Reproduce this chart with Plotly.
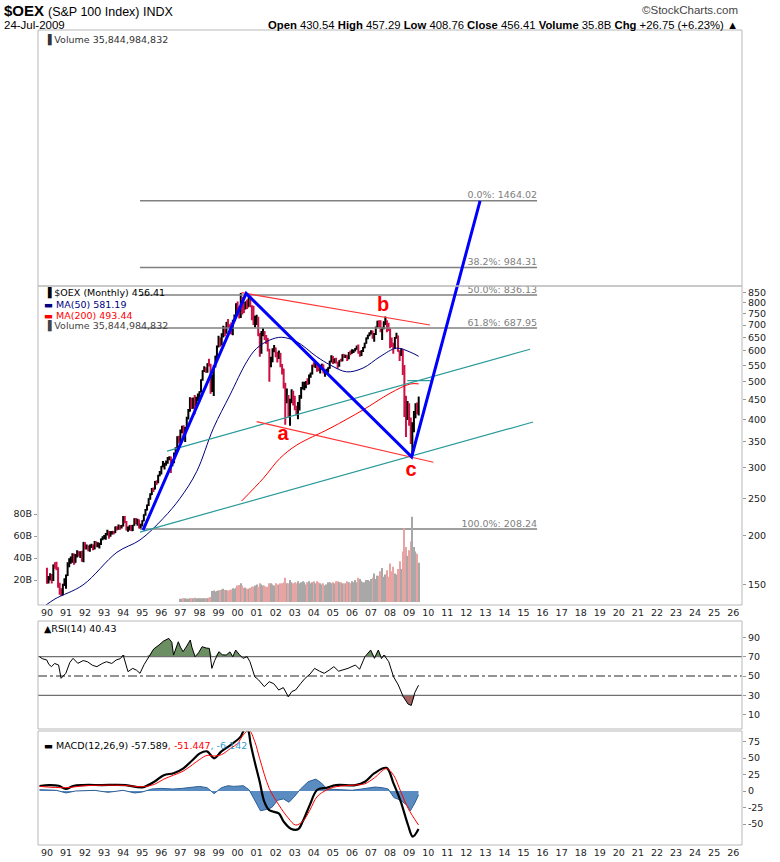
import plotly.graph_objects as go

W, H = 780, 862

# ---------------- data ----------------
FIRST_OPEN = 164.3
CLOSE = [
    153.0,154.3,158.1,153.8,168.0,166.5,165.6,150.0,142.3,141.4,149.8,153.5,
    158.2,168.9,172.6,172.6,179.3,170.8,178.4,181.9,178.4,180.6,172.6,191.9,
    186.0,187.8,183.7,188.8,189.0,185.7,193.0,188.4,190.1,190.5,196.3,198.2,
    199.7,201.7,205.5,200.3,204.8,205.0,203.9,210.9,208.8,212.8,210.1,212.3,
    223.9,217.2,207.3,209.7,212.3,206.6,213.1,221.1,215.2,219.7,211.0,213.6,
    218.7,226.6,233.3,240.3,249.6,255.5,264.2,264.1,275.3,274.5,286.2,291.6,
    302.1,304.2,306.6,310.7,317.8,318.5,304.0,309.7,326.5,335.0,359.6,351.8,
    373.4,375.6,359.6,380.6,402.9,420.4,453.3,427.3,450.0,434.4,453.8,460.9,
    470.5,505.7,533.3,540.3,532.3,555.6,551.4,472.9,504.4,547.1,581.8,617.0,
    646.2,628.6,656.1,684.3,670.4,710.4,690.9,689.9,673.4,718.9,736.1,792.8,
    760.0,744.7,816.7,791.6,774.2,792.8,779.8,827.1,782.9,776.5,712.5,714.4,
    730.8,662.7,619.8,667.0,670.0,652.6,645.2,603.5,553.8,563.5,605.6,609.8,
    593.4,575.5,590.9,549.2,538.9,494.9,455.8,458.1,407.7,442.9,468.2,439.9,
    427.9,420.6,424.1,458.5,480.8,485.3,492.2,500.0,493.0,520.1,523.8,550.4,
    548.6,555.3,546.2,537.0,543.5,553.3,528.8,530.0,535.0,542.5,563.4,581.7,
    561.1,571.7,560.8,549.5,566.0,565.9,586.2,579.6,583.7,573.3,593.5,592.9,
    601.6,601.9,608.6,616.0,597.0,597.0,600.0,612.8,627.9,647.6,658.3,666.6,
    671.6,657.0,663.6,692.3,714.8,702.1,679.6,688.4,713.0,723.6,691.7,685.7,
    643.8,621.4,617.7,648.5,655.4,599.0,594.4,601.6,548.2,457.4,424.7,431.0,
    394.0,348.6,378.8,411.5,430.6,429.66,456.41,
]
HIGH = [
    165.5,157.5,160.3,159.5,168.8,171.0,171.5,166.0,151.5,146.5,150.5,155.5,
    159.0,171.0,175.0,177.0,180.5,180.0,179.5,183.5,182.5,182.5,183.0,193.0,
    192.5,190.0,189.0,190.0,191.0,190.0,194.0,193.5,192.5,192.0,197.0,199.5,
    201.0,203.5,207.5,206.0,205.5,206.0,206.0,211.5,211.5,214.0,213.5,213.5,
    225.0,225.0,218.5,211.5,213.0,213.5,213.5,222.0,222.5,221.5,220.5,215.0,
    219.5,227.5,234.5,241.0,250.0,257.5,266.0,266.5,277.0,278.5,287.5,294.0,
    303.0,312.0,309.0,313.0,319.5,321.0,320.5,315.0,328.0,338.5,361.5,362.5,
    376.5,385.0,386.0,382.0,406.0,425.0,455.5,453.5,455.0,462.0,457.0,466.0,
    472.0,507.5,535.0,548.0,545.0,557.5,572.5,556.0,521.5,551.0,583.5,620.0,
    657.0,650.0,667.0,697.0,693.0,713.0,725.0,703.0,710.0,722.0,745.0,796.0,
    805.0,783.0,846.0,828.0,803.0,806.0,815.0,830.0,834.0,787.0,785.0,740.0,
    744.0,735.0,668.0,675.0,688.0,675.0,660.0,648.0,608.0,580.0,610.0,622.0,
    612.0,597.0,602.0,593.0,555.0,540.0,496.0,480.0,462.0,452.0,478.0,474.0,
    460.0,433.0,443.0,462.0,484.0,500.0,500.0,502.0,510.0,522.0,528.0,553.0,
    561.0,559.0,557.0,555.0,545.0,556.0,554.0,533.0,540.0,545.0,566.0,585.0,
    582.0,574.0,576.0,561.0,568.0,573.0,588.0,588.0,587.0,585.0,596.0,602.0,
    606.0,605.0,611.0,620.0,623.0,600.0,603.0,614.0,630.0,650.0,661.0,670.0,
    679.0,677.0,668.0,693.0,718.0,720.0,720.0,690.0,716.0,736.0,720.0,709.0,
    687.0,650.0,630.0,652.0,669.0,658.0,602.0,610.0,606.0,552.0,460.0,446.0,
    440.0,404.0,393.0,420.0,440.0,442.0,457.29,
]
LOW = [
    150.5,150.8,153.5,150.7,153.0,164.5,163.0,147.0,141.0,140.0,140.5,148.5,
    146.0,157.5,166.0,169.5,170.5,168.5,170.5,176.0,177.0,175.5,171.5,171.0,
    184.5,184.5,182.5,182.0,186.0,183.5,184.5,187.0,187.0,185.5,189.5,195.0,
    196.0,195.5,200.5,196.5,199.0,201.5,201.5,203.5,206.5,207.5,207.5,209.0,
    211.5,215.5,206.5,205.0,206.5,206.0,206.0,212.5,214.5,212.5,209.0,208.24,
    211.5,218.0,225.5,232.5,239.0,248.0,255.0,259.5,263.5,270.5,273.5,285.0,
    288.0,300.5,296.5,303.5,307.0,313.5,290.5,302.5,308.0,325.0,334.0,346.0,
    349.5,368.0,357.0,349.5,378.0,399.0,418.0,425.0,425.5,412.0,432.0,445.5,
    443.5,469.0,503.0,529.5,527.0,527.5,547.0,465.5,470.0,459.0,544.0,570.0,
    612.0,615.5,620.0,650.0,655.0,665.0,688.0,664.0,662.0,659.0,716.0,730.0,
    745.0,728.0,730.0,745.0,752.0,768.0,770.0,780.0,778.0,720.0,700.0,690.0,
    700.0,655.0,580.0,590.0,655.0,640.0,625.0,598.0,500.0,545.0,561.0,595.0,
    578.0,560.0,572.0,545.0,522.0,480.0,387.0,440.0,404.0,385.0,440.0,434.0,
    422.0,409.0,400.0,421.0,452.0,477.0,475.0,481.0,490.0,492.0,512.0,522.0,
    545.0,542.0,530.0,532.0,525.0,540.0,525.0,515.0,528.0,527.0,540.0,560.0,
    555.0,558.0,557.0,540.0,546.0,563.0,564.0,575.0,575.0,565.0,571.0,585.0,
    590.0,593.0,598.0,604.0,590.0,580.0,582.0,596.0,610.0,626.0,643.0,655.0,
    662.0,645.0,634.0,660.0,690.0,690.0,670.0,640.0,683.0,700.0,670.0,675.0,
    610.0,614.0,590.0,608.0,645.0,597.0,565.0,582.0,520.0,405.0,360.0,398.0,
    385.0,345.0,322.0,370.0,402.0,412.0,408.76,
]
START_YEAR = 1990

VOL_START_YEAR = 1997
VOLUME_B = [
    3,3,3.5,3.5,3,3,3.5,3.5,3.5,4,3.5,3.5,
    3.5,3.5,3.5,3.5,3.5,3.5,4,4.5,10,10.5,9.5,10,
    10.5,11,11.5,12,11,11,10.5,11,11.5,12.5,12,13,
    15,15.5,17,15,13,13,12,12,13,14,14,15,
    16,14,17,16,15,15,14,14,17,17,16,15,
    17,16,16,17,17,18,22,17,17,20,18,17,
    18,17,19,17,18,19,18,16,18,19,17,18,
    19,17,19,18,17,16,17,15,16,18,18,17,
    18,17,19,19,18,18,17,17,17,19,18,17,
    19,18,20,18,22,21,19,18,18,20,20,19,
    21,22,26,21,24,24,28,31,23,25,29,23,
    35,28,32,26,25,30,37,30,46,67,50,42,
    47,55,77.5,50,46,44,35.8,
]

MA50_X = [1989.9, 1990.42, 1991.89, 1993.67, 1994.88, 1996.10, 1996.98, 1997.85, 1998.73,
          1999.60, 2000.48, 2001.00, 2001.70, 2002.31, 2003.10, 2004.15, 2004.85, 2005.72,
          2006.58, 2007.47, 2008.35, 2009.05, 2009.5]
MA50_V = [132.0, 137.5, 149.4, 181.4, 195.2, 222.0, 250.0, 292.8, 379.0,
          461.9, 562.9, 609.5, 640.4, 650.8, 633.9, 579.9, 552.3, 530.0,
          542.0, 580.0, 610.0, 596.0, 581.19]
MA200_X = [2000.21, 2001.35, 2002.22, 2003.10, 2004.85, 2006.58, 2008.0, 2009.05, 2009.5]
MA200_V = [246.0, 281.6, 317.0, 343.0, 379.0, 422.6, 466.7, 493.0, 493.44]

RSI_X = [1989.61,1989.75,1989.99,1990.1,1990.24,1990.4,1990.61,1990.74,1990.99,1991.2,1991.37,
         1991.62,1991.9,1992.12,1992.4,1992.62,1992.9,1993.12,1993.4,1993.63,1993.85,1994.0,
         1994.25,1994.5,1994.7,1994.88,1995.1,1995.38,1995.6,1995.88,1996.1,1996.39,1996.55,
         1996.64,1996.89,1997.0,1997.14,1997.3,1997.52,1997.6,1997.77,1997.95,1998.14,1998.35,
         1998.52,1998.65,1998.8,1999.02,1999.2,1999.4,1999.6,1999.75,1999.9,2000.1,2000.28,
         2000.5,2000.65,2000.9,2001.1,2001.4,2001.66,2001.9,2002.16,2002.4,2002.66,2002.85,
         2003.04,2003.3,2003.54,2003.8,2004.04,2004.3,2004.54,2004.8,2005.05,2005.3,2005.55,
         2005.8,2006.18,2006.4,2006.68,2006.98,2007.18,2007.38,2007.55,2007.68,2007.93,
         2008.18,2008.43,2008.69,2008.94,2009.11,2009.3,2009.49]
RSI_V = [70,68,66.6,62,59.7,63,61.4,47.6,52.8,64,68.3,
         63.1,66,64.8,61,59.7,63,64.8,63,66.6,68,71.7,
         54.5,57.9,56,52.8,62,71.7,78,82.1,86,89.0,85,
         71.7,85.5,80,75.2,80,87.3,80,70,74,80.4,79,
         78.6,57.9,66,75.2,72,71.7,75,70,76.9,72,68.3,
         70,64.8,49.3,46,39.0,44.1,42,35.5,38,28.6,34,
         35.5,42,47.6,52,57.9,55,52.8,56,59.7,55,56.2,
         58,61.4,57,70,76.9,68.3,76.9,68,71.7,64.8,
         49.3,40.7,28.6,21,19.5,33,40.43]

MACD_X = [1989.61,1990.11,1990.61,1990.99,1991.37,1991.87,1992.87,1994.13,1995.01,1995.63,1996.13,
          1996.64,1997.14,1997.64,1998.02,1998.4,1998.77,1999.15,1999.65,2000.15,2000.4,2000.55,
          2000.68,2000.9,2001.16,2001.4,2001.66,2002.16,2002.41,2002.79,2003.17,2003.42,2003.79,
          2004.17,2004.67,2005.17,2006.18,2006.68,2007.18,2007.81,2008.18,2008.56,2008.94,
          2009.19,2009.49]
MACD_V = [7.6,9,8,3,7.6,9,9,9,5.6,14,24,
          27,34,47,57,60,49.5,60,70,82,95,92,
          72,44,14,-16,-29,-34,-46,-57,-58,-46,-21,
          1.5,5,9,9,14,27,35,11.6,-16,-51.5,
          -69,-57.589]
SIGNAL_X = [1989.61,1991.0,1992.0,1994.0,1995.01,1995.63,1996.13,1996.64,1997.14,1997.64,1998.02,
            1998.4,1998.77,1999.15,1999.65,2000.0,2000.3,2000.6,2000.9,2001.16,2001.66,2002.16,
            2002.66,2003.04,2003.42,2003.79,2004.17,2004.67,2005.17,2006.18,2006.68,2007.18,
            2007.81,2008.18,2008.56,2008.94,2009.49]
SIGNAL_V = [7,5,8,8.5,6.5,10,18,24,30,40,48,
            54,53,55,65,72,85,92,75,49,4,-21,
            -41,-51.5,-46,-29,-8.6,1.5,6.5,9,11,20,
            34,24,-1,-26,-51.447]
HIST_X = [1989.61,1990.5,1991.0,1991.5,1992.5,1993.2,1994.0,1994.6,1995.0,1995.5,1996.0,1996.6,
          1997.1,1997.6,1998.0,1998.4,1998.77,1999.15,1999.5,1999.8,2000.3,2000.6,2000.9,2001.2,
          2001.5,2001.8,2002.1,2002.4,2002.7,2003.0,2003.3,2003.7,2004.1,2004.4,2004.7,2005.2,
          2006.0,2006.5,2007.2,2007.6,2007.9,2008.2,2008.56,2008.9,2009.06,2009.3,2009.49]
HIST_V = [2,1,-3,0,1,-2,1,-3,-1.5,3,4,3,
          4,6,7,5,-4,5,8,7,8,2,-15,-30,
          -28,-25,-14,-12,-17,-8,3,14,18,12,3,2,
          1,3,6,5,3,-10,-14,-22,-30,-18,-6.142]

# hand-drawn annotations (year, price)
BLUE_X = [1995.04, 2000.45, 2009.13, 2012.72]
BLUE_V = [207.0, 845.0, 320.0, 1464.02]
RED_TOP_X, RED_TOP_V = [2000.21, 2010.09], [848.0, 700.0]
RED_BOT_X, RED_BOT_V = [2001.0, 2010.27], [394.4, 309.7]
TEAL_UP_X, TEAL_UP_V = [1996.3, 2015.34], [331.0, 606.0]
TEAL_LO_X, TEAL_LO_V = [1994.88, 2015.5], [204.6, 393.4]
TEAL_SEG_X, TEAL_SEG_V = [2008.9, 2010.2], [503.0, 503.0]
FIB_PCT = ["0.0%", "38.2%", "50.0%", "61.8%", "100.0%"]
FIB_VAL = [1464.02, 984.31, 836.13, 687.95, 208.24]
FIB_X = [1994.88, 2015.71]
WAVE_TXT = ["a", "b", "c"]
WAVE_X = [2002.38, 2007.63, 2009.10]
WAVE_V = [364.0, 785.0, 294.0]

PRICE_TICKS = [150, 200, 250, 300, 350, 400, 450, 500, 550, 600, 650, 700, 750, 800, 850]
TOPVOL_TICKS = [5, 10, 15, 20, 25, 30, 35, 40, 45, 50, 55, 60, 65, 70, 75]
VOL_TICKS = [20, 40, 60, 80]
RSI_TICKS = [10, 30, 50, 70, 90]
MACD_TICKS = [-50, -25, 0, 25, 50, 75]
YEAR_TICKS = list(range(1990, 2027))

# ---------------- derived ----------------
n = len(CLOSE)
MONTH_X = [START_YEAR + i / 12 for i in range(n)]
OPEN = [FIRST_OPEN] + CLOSE[:-1]
VOL_X = [VOL_START_YEAR + i / 12 for i in range(len(VOLUME_B))]
vol_off = (VOL_START_YEAR - START_YEAR) * 12
VOL_COL = ["#a8a8a8" if CLOSE[vol_off + i] >= OPEN[vol_off + i] else "#e8a3a3"
           for i in range(len(VOLUME_B))]

# ---------------- layout helpers ----------------
L_PX, R_PX = 38, 742
XDOM = [L_PX / W, R_PX / W]
XR = [1989.53, 2026.46]


def ydom(top, bot):
    return [1 - bot / H, 1 - top / H]


AX_FONT = dict(family="DejaVu Sans", size=9.5, color="#222")
GRAY = "#b8b8b8"

fig = go.Figure()

# volume (behind price)
fig.add_trace(go.Bar(x=VOL_X, y=VOLUME_B, marker=dict(color=VOL_COL, line=dict(width=0)),
                     width=0.065, xaxis="x", yaxis="y3", hoverinfo="skip"))

# price bars
fig.add_trace(go.Ohlc(x=MONTH_X, open=OPEN, high=HIGH, low=LOW, close=CLOSE,
                      increasing=dict(line=dict(color="#000000", width=2)),
                      decreasing=dict(line=dict(color="#cc1144", width=2)),
                      tickwidth=0.3, xaxis="x", yaxis="y", hoverinfo="skip"))

# moving averages
fig.add_trace(go.Scatter(x=MA50_X, y=MA50_V, mode="lines", line=dict(color="#000080", width=1),
                         xaxis="x", yaxis="y", line_shape="spline"))
fig.add_trace(go.Scatter(x=MA200_X, y=MA200_V, mode="lines", line=dict(color="#ff0000", width=1),
                         xaxis="x", yaxis="y", line_shape="spline"))

# fib lines + labels
for pct, val in zip(FIB_PCT, FIB_VAL):
    fig.add_trace(go.Scatter(x=FIB_X, y=[val, val], mode="lines",
                             line=dict(color="#808080", width=1.5), xaxis="x", yaxis="y"))
    fig.add_trace(go.Scatter(x=[FIB_X[1]], y=[val], mode="text", text=[f"{pct}: {val:.2f}"],
                             textposition="top left",
                             textfont=dict(family="DejaVu Sans", size=9.5, color="#808080"),
                             xaxis="x", yaxis="y"))

# trend lines
for xs, vs, col, w in [(TEAL_UP_X, TEAL_UP_V, "#2a9a9a", 1.2), (TEAL_LO_X, TEAL_LO_V, "#2a9a9a", 1.2),
                       (TEAL_SEG_X, TEAL_SEG_V, "#2a9a9a", 1.2),
                       (RED_TOP_X, RED_TOP_V, "#ff3333", 1.2), (RED_BOT_X, RED_BOT_V, "#ff3333", 1.2),
                       (BLUE_X, BLUE_V, "#0000ff", 3)]:
    fig.add_trace(go.Scatter(x=xs, y=vs, mode="lines", line=dict(color=col, width=w),
                             xaxis="x", yaxis="y"))

fig.add_trace(go.Scatter(x=WAVE_X, y=WAVE_V, mode="text", text=[f"<b>{t}</b>" for t in WAVE_TXT],
                         textposition="middle center",
                         textfont=dict(family="Liberation Sans", size=20, color="#ff0000"),
                         xaxis="x", yaxis="y"))

# RSI
RSI_UP = [max(v, 70) for v in RSI_V]
RSI_DN = [min(v, 30) for v in RSI_V]
fig.add_trace(go.Scatter(x=RSI_X, y=[70] * len(RSI_X), mode="lines", line=dict(width=0),
                         xaxis="x4", yaxis="y4"))
fig.add_trace(go.Scatter(x=RSI_X, y=RSI_UP, mode="lines", line=dict(width=0), fill="tonexty",
                         fillcolor="#6b8f63", xaxis="x4", yaxis="y4"))
fig.add_trace(go.Scatter(x=RSI_X, y=[30] * len(RSI_X), mode="lines", line=dict(width=0),
                         xaxis="x4", yaxis="y4"))
fig.add_trace(go.Scatter(x=RSI_X, y=RSI_DN, mode="lines", line=dict(width=0), fill="tonexty",
                         fillcolor="#a46464", xaxis="x4", yaxis="y4"))
for lvl, dash in [(70, "solid"), (30, "solid"), (50, "dashdot")]:
    fig.add_trace(go.Scatter(x=XR, y=[lvl, lvl], mode="lines",
                             line=dict(color="#707070", width=1.3, dash=dash),
                             xaxis="x4", yaxis="y4"))
fig.add_trace(go.Scatter(x=RSI_X, y=RSI_V, mode="lines", line=dict(color="#000000", width=1),
                         xaxis="x4", yaxis="y4"))

# MACD
fig.add_trace(go.Scatter(x=HIST_X, y=HIST_V, mode="lines", fill="tozeroy",
                         fillcolor="#5a8cc2", line=dict(color="#2d5f96", width=1),
                         xaxis="x5", yaxis="y5"))
fig.add_trace(go.Scatter(x=MACD_X, y=MACD_V, mode="lines", line=dict(color="#000000", width=2.2),
                         xaxis="x5", yaxis="y5", line_shape="spline"))
fig.add_trace(go.Scatter(x=SIGNAL_X, y=SIGNAL_V, mode="lines", line=dict(color="#ff0000", width=1),
                         xaxis="x5", yaxis="y5", line_shape="spline"))

year_txt = [f"{y % 100:02d}" for y in YEAR_TICKS]
xbase = dict(domain=XDOM, range=XR, showgrid=False, zeroline=False, showline=False,
             tickvals=YEAR_TICKS, ticktext=year_txt, tickfont=AX_FONT, ticks="")
ybase = dict(showgrid=False, zeroline=False, showline=False, tickfont=AX_FONT,
             ticks="outside", ticklen=3, tickcolor="#999", side="right")

PRICE_RANGE = [2.1227, 3.6062]

fig.update_layout(
    width=W, height=H, autosize=False, margin=dict(l=0, r=0, t=0, b=0),
    paper_bgcolor="white", plot_bgcolor="rgba(0,0,0,0)", showlegend=False,
    xaxis=dict(**xbase, anchor="y", rangeslider=dict(visible=False)),
    yaxis=dict(**ybase, domain=ydom(30, 605), type="log", range=PRICE_RANGE, anchor="x",
               tickvals=PRICE_TICKS, ticktext=[str(v) for v in PRICE_TICKS]),
    yaxis2=dict(**ybase, overlaying="y", anchor="x", range=[-100.75, 79.7],
                tickvals=TOPVOL_TICKS, ticktext=[f"{v}B" for v in TOPVOL_TICKS]),
    yaxis3=dict(showgrid=False, zeroline=False, showline=False, tickfont=AX_FONT,
                ticks="outside", ticklen=3, tickcolor="#999",
                overlaying="y", anchor="x", side="left", range=[-2.7, 520],
                tickvals=VOL_TICKS, ticktext=[f"{v}B" for v in VOL_TICKS]),
    xaxis4=dict(**{**xbase, "showticklabels": False}, anchor="y4"),
    yaxis4=dict(**ybase, domain=ydom(621, 729), range=[-4.9, 107], anchor="x4",
                tickvals=RSI_TICKS, ticktext=[str(v) for v in RSI_TICKS]),
    xaxis5=dict(**xbase, anchor="y5"),
    yaxis5=dict(**ybase, domain=ydom(731, 845), range=[-81.8, 90.9], anchor="x5",
                tickvals=MACD_TICKS, ticktext=[str(v) for v in MACD_TICKS]),
)

# panel frames
for top, bot in [(30, 286), (286, 605), (621, 729), (731, 845)]:
    fig.add_shape(type="rect", xref="paper", yref="paper", x0=L_PX / W, x1=R_PX / W,
                  y0=1 - bot / H, y1=1 - top / H, line=dict(color=GRAY, width=1), layer="above")


def txt(x, y, s, size=9.5, color="#222", family="DejaVu Sans", anchor="left"):
    fig.add_annotation(xref="paper", yref="paper", x=x / W, y=1 - y / H, text=s, showarrow=False,
                       xanchor=anchor, yanchor="middle", font=dict(family=family, size=size, color=color))


NARROW = "Liberation Sans Narrow, Liberation Sans"
txt(2, 11, "<b>$OEX</b>", size=15, color="#000", family=NARROW)
txt(46, 12, "(S&P 100 Index) INDX", size=12.5, color="#000", family=NARROW)
txt(2, 25, "24-Jul-2009", size=11.5, color="#000", family=NARROW)
txt(740, 10, "©StockCharts.com", size=11.5, color="#444", family=NARROW, anchor="right")
txt(740, 25, "<b>Open</b> 430.54 <b>High</b> 457.29 <b>Low</b> 408.76 <b>Close</b> 456.41 "
             "<b>Volume</b> 35.8B <b>Chg</b> +26.75 (+6.23%) ▲", size=11.3, color="#000",
    family=NARROW, anchor="right")

txt(42, 40, "▐ Volume 35,844,984,832", size=9.5, color="#333")
txt(42, 293, "▐ $OEX (Monthly) 456.41", size=9.5, color="#000")
txt(42, 304, "<span style='color:#000080'>▬ MA(50) 581.19</span>", size=9.5)
txt(42, 315, "<span style='color:#ff0000'>▬ MA(200) 493.44</span>", size=9.5)
txt(42, 326, "▐ Volume 35,844,984,832", size=9.5, color="#444")
txt(42, 628, "▲RSI(14) 40.43", size=9.5, color="#000")
txt(42, 745, "▬ MACD(12,26,9) -57.589<span style='color:#ff0000'>, -51.447</span>"
             "<span style='color:#3399cc'>, -6.142</span>", size=9.5, color="#000")

fig.write_html("out.html")
